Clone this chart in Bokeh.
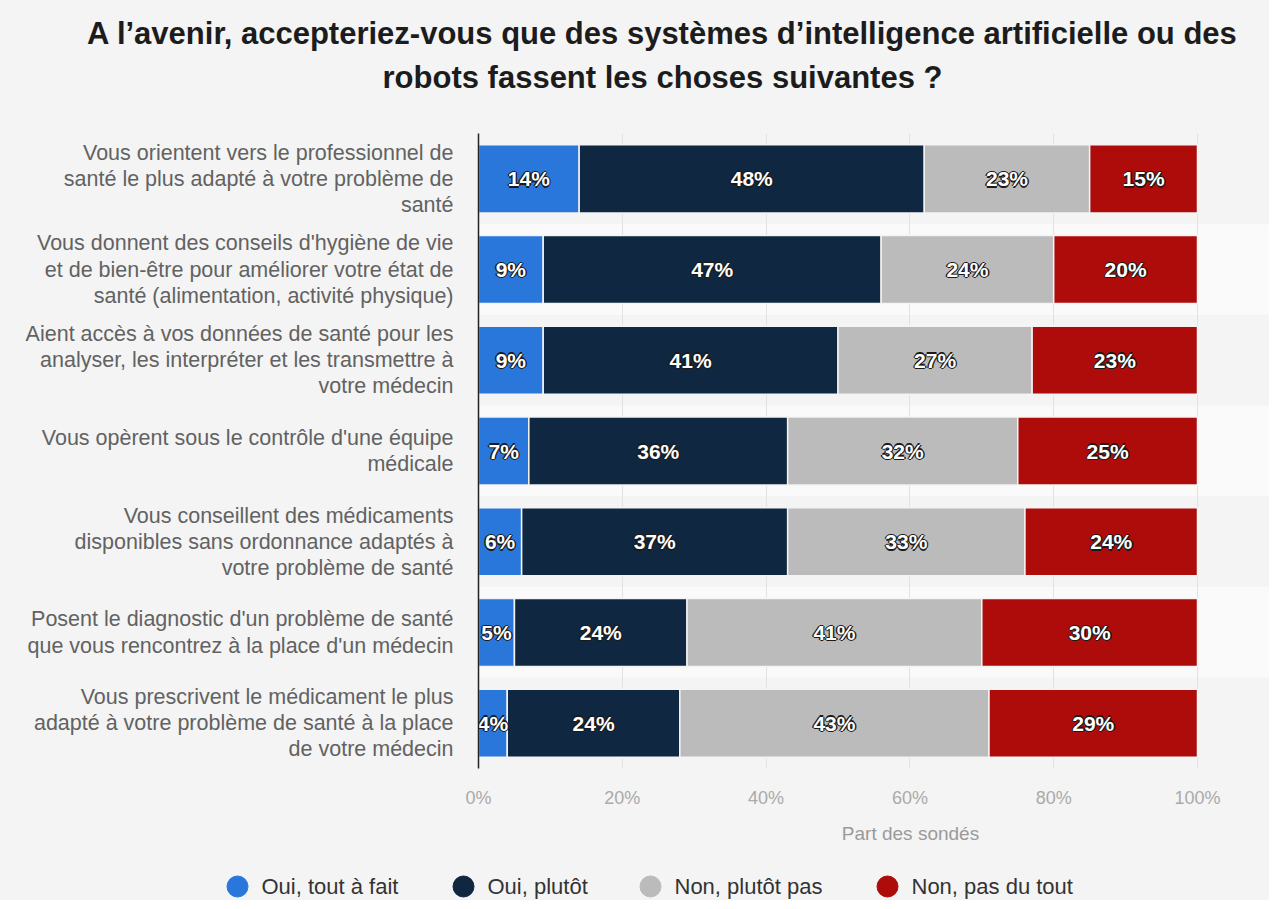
from bokeh.plotting import figure
from bokeh.models import (FactorRange, Range1d, FixedTicker, PrintfTickFormatter, ColumnDataSource)
from bokeh.layouts import column
from bokeh.core.properties import value
from bokeh.embed import file_html
from bokeh.resources import INLINE

# ---------------- data ----------------
categories = [
    "Vous orientent vers le professionnel de\nsanté le plus adapté à votre problème de\nsanté",
    "Vous donnent des conseils d'hygiène de vie\net de bien-être pour améliorer votre état de\nsanté (alimentation, activité physique)",
    "Aient accès à vos données de santé pour les\nanalyser, les interpréter et les transmettre à\nvotre médecin",
    "Vous opèrent sous le contrôle d'une équipe\nmédicale",
    "Vous conseillent des médicaments\ndisponibles sans ordonnance adaptés à\nvotre problème de santé",
    "Posent le diagnostic d'un problème de santé\nque vous rencontrez à la place d'un médecin",
    "Vous prescrivent le médicament le plus\nadapté à votre problème de santé à la place\nde votre médecin",
]
series = ["Oui, tout à fait", "Oui, plutôt", "Non, plutôt pas", "Non, pas du tout"]
oui_tout_a_fait = [14, 9, 9, 7, 6, 5, 4]
oui_plutot = [48, 47, 41, 36, 37, 24, 24]
non_plutot_pas = [23, 24, 27, 32, 33, 41, 43]
non_pas_du_tout = [15, 20, 23, 25, 24, 30, 29]
x_ticks = [0, 20, 40, 60, 80, 100]

title_lines = ["A l’avenir, accepteriez-vous que des systèmes d’intelligence artificielle ou des",
               "robots fassent les choses suivantes ?"]
x_title = "Part des sondés"

# ---------------- style / layout ----------------
colors = ["#2a77dc", "#0f2740", "#bbbbbb", "#ae0b0b"]
FONT = "Liberation Sans"
BG = "#f4f4f4"
W = 1269
TITLE_H = 133            # title strip (page y 0..133)
MAIN_TOP, MAIN_BOTTOM = 133, 812
FRAME_LEFT = 478
FRAME_H = 635
BOTTOM_TOP, BOTTOM_END = 812, 900
title_y = [33, 77]
title_cx = 662
x_title_pos = (910, 833)
legend_y = 886
legend_cx = [237, 463, 650, 887]


def blank_fig(h, y0, y1):
    f = figure(width=W, height=h, output_backend="svg", toolbar_location=None,
               x_range=Range1d(0, W), y_range=Range1d(y1, y0),
               min_border=0, background_fill_color=BG, border_fill_color=BG,
               outline_line_color=None, frame_align=False)
    f.axis.visible = False
    f.grid.visible = False
    return f


# ---------------- title strip ----------------
pt = blank_fig(TITLE_H, 0, TITLE_H)
pt.text(x=[title_cx] * 2, y=title_y, text=title_lines, text_font=value(FONT),
        text_font_size="31px", text_font_style="bold", text_color="#1c1c1c",
        text_align="center", text_baseline="middle")

# ---------------- main chart ----------------
main_h = MAIN_BOTTOM - MAIN_TOP
p = figure(width=W, height=main_h, output_backend="svg", toolbar_location=None,
           y_range=FactorRange(factors=categories[::-1], range_padding=0),
           x_range=Range1d(0, 100 * (W - FRAME_LEFT) / 719.0),
           min_border_left=FRAME_LEFT, min_border_right=0,
           min_border_top=0, min_border_bottom=main_h - FRAME_H,
           background_fill_color=BG, border_fill_color=BG, outline_line_color=None,
           frame_align=False)

# alternating row bands
band_src = ColumnDataSource(dict(cat=categories[1::2]))
p.hbar(y="cat", left=0, right=p.x_range.end, height=1.0, source=band_src,
       fill_color="#fafafa", line_color=None, level="image")

cols = ["s0", "s1", "s2", "s3"]
src = ColumnDataSource(dict(cat=categories, s0=oui_tout_a_fait, s1=oui_plutot,
                            s2=non_plutot_pas, s3=non_pas_du_tout))
p.hbar_stack(cols, y="cat", height=0.75, color=colors, source=src,
             line_color="#f4f4f4", line_width=1.5)

# value labels (centre of each segment)
lx, ly, lt = [], [], []
for i, c in enumerate(categories):
    vals = [oui_tout_a_fait[i], oui_plutot[i], non_plutot_pas[i], non_pas_du_tout[i]]
    left = 0
    for v in vals:
        lx.append(left + v / 2)
        ly.append(c)
        lt.append(f"{v}%")
        left += v
lab_src = ColumnDataSource(dict(x=lx, y=ly, t=lt))
for dx, dy in [(-1.4, 0), (1.4, 0), (0, -1.4), (0, 1.4)]:
    p.text(x="x", y="y", text="t", source=lab_src, x_offset=dx, y_offset=dy,
           text_font=value(FONT), text_font_size="21px", text_font_style="bold",
           text_color="#1a1a1a", text_align="center", text_baseline="middle")
p.text(x="x", y="y", text="t", source=lab_src,
       text_font=value(FONT), text_font_size="21px", text_font_style="bold",
       text_color="white", text_align="center", text_baseline="middle")

xa = p.xaxis[0]
xa.ticker = FixedTicker(ticks=x_ticks)
xa.formatter = PrintfTickFormatter(format="%d%%")
xa.axis_line_color = None
xa.major_tick_line_color = None
xa.major_tick_out = 0
xa.minor_tick_line_color = None
xa.minor_tick_out = 0
xa.major_label_standoff = 19
xa.major_label_text_font = FONT
xa.major_label_text_font_size = "18px"
xa.major_label_text_color = "#aaaaaa"

ya = p.yaxis[0]
ya.axis_line_color = "#222222"
ya.axis_line_width = 1.5
ya.major_tick_line_color = None
ya.major_tick_out = 0
ya.minor_tick_line_color = None
ya.minor_tick_out = 0
ya.major_label_standoff = 25
ya.major_label_text_font = FONT
ya.major_label_text_font_size = "21.5px"
ya.major_label_text_color = "#626262"
ya.major_label_text_line_height = 1.09

p.ygrid.grid_line_color = None
p.xgrid.ticker = FixedTicker(ticks=x_ticks)
p.xgrid.grid_line_color = "#e2e2e2"
p.xgrid.grid_line_width = 1

# ---------------- axis title + legend strip ----------------
pb = blank_fig(BOTTOM_END - BOTTOM_TOP, BOTTOM_TOP, BOTTOM_END)
pb.text(x=[x_title_pos[0]], y=[x_title_pos[1]], text=[x_title], text_font=value(FONT),
        text_font_size="19px", text_color="#9a9a9a", text_align="center", text_baseline="middle")
pb.scatter(x=legend_cx, y=[legend_y] * 4, marker="circle", size=21,
           fill_color=colors, line_color=colors)
pb.text(x=[c + 24 for c in legend_cx], y=[legend_y] * 4, text=series, text_font=value(FONT),
        text_font_size="22px", text_color="#333333", text_align="left", text_baseline="middle")

layout = column(pt, p, pb, spacing=0, styles={"background-color": BG})
open("out.html", "w").write(file_html(layout, INLINE))
